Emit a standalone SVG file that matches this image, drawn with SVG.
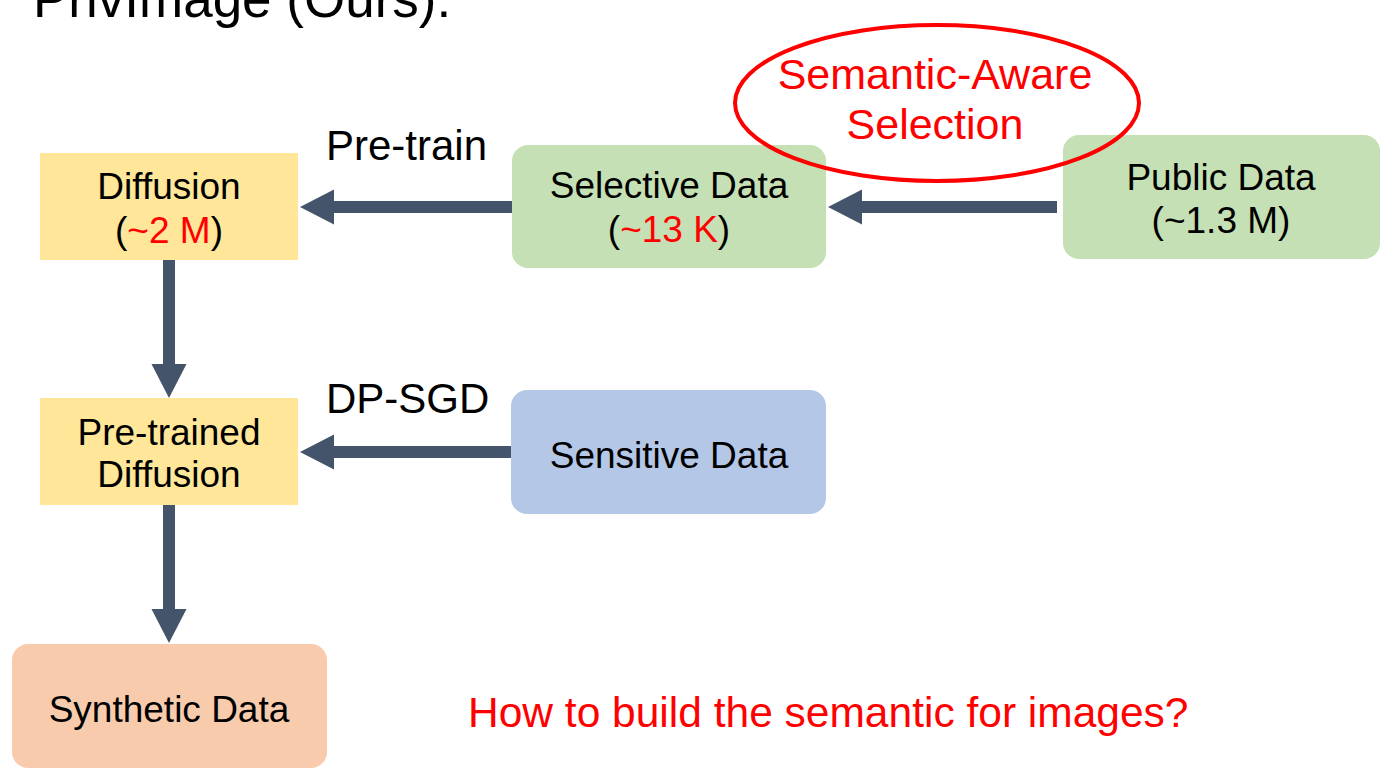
<svg xmlns="http://www.w3.org/2000/svg" width="1384" height="771" viewBox="0 0 1384 771">
  <style>
    text { font-family: "Liberation Sans", Arial, sans-serif; }
    .box { font-size: 37px; fill: #000; text-anchor: middle; }
    .lbl { font-size: 42px; fill: #000; }
    .red { fill: #FF0000; }
    .note { font-size: 43px; fill: #FF0000; text-anchor: middle; }
    .arrow { stroke: #44546A; stroke-width: 12; fill: none; marker-end: url(#head); }
  </style>
  <defs>
    <marker id="head" markerUnits="userSpaceOnUse" markerWidth="36" markerHeight="38" viewBox="0 -19 36 38" refX="0" refY="0" orient="auto">
      <path d="M0,-17.5 L34,0 L0,17.5 Z" fill="#44546A"/>
    </marker>
  </defs>
  <rect width="1384" height="771" fill="#FFFFFF"/>

  <!-- heading, partly above the top edge -->
  <text x="33" y="17" font-size="53" fill="#000">PrivImage (Ours):</text>

  <!-- connectors -->
  <g id="connectors">
    <line class="arrow" x1="512" y1="207" x2="334" y2="207"/>
    <line class="arrow" x1="1057" y1="207" x2="862" y2="207"/>
    <line class="arrow" x1="511" y1="452" x2="334" y2="452"/>
    <line class="arrow" x1="169" y1="260" x2="169" y2="364"/>
    <line class="arrow" x1="169" y1="505" x2="169" y2="609"/>
    <text class="lbl" x="326" y="160">Pre-train</text>
    <text class="lbl" x="326" y="413">DP-SGD</text>
  </g>

  <g id="diffusion">
    <rect x="40" y="153" width="258" height="107" fill="#FFE699"/>
    <text class="box" x="169" y="199">Diffusion</text>
    <text class="box" x="169" y="243">(<tspan class="red">~2 M</tspan>)</text>
  </g>

  <g id="selective-data">
    <rect x="512" y="145" width="314" height="123" rx="16" fill="#C5E0B4"/>
    <text class="box" x="669" y="198">Selective Data</text>
    <text class="box" x="669" y="242">(<tspan class="red">~13 K</tspan>)</text>
  </g>

  <g id="public-data">
    <rect x="1063" y="135" width="317" height="124" rx="16" fill="#C5E0B4"/>
    <text class="box" x="1221" y="190">Public Data</text>
    <text class="box" x="1221" y="233">(~1.3 M)</text>
  </g>

  <g id="semantic-selection">
    <ellipse cx="937" cy="103" rx="202" ry="78" fill="none" stroke="#FF0000" stroke-width="4"/>
    <text class="note" x="935" y="89">Semantic-Aware</text>
    <text class="note" x="935" y="139">Selection</text>
  </g>

  <g id="pretrained-diffusion">
    <rect x="40" y="398" width="258" height="107" fill="#FFE699"/>
    <text class="box" x="169" y="445">Pre-trained</text>
    <text class="box" x="169" y="487">Diffusion</text>
  </g>

  <g id="sensitive-data">
    <rect x="511" y="390" width="315" height="124" rx="16" fill="#B4C7E7"/>
    <text class="box" x="669" y="468">Sensitive Data</text>
  </g>

  <g id="synthetic-data">
    <rect x="12" y="644" width="315" height="124" rx="16" fill="#F8CBAD"/>
    <text class="box" x="169" y="722">Synthetic Data</text>
  </g>

  <text x="468" y="727" font-size="42.5" fill="#FF0000">How to build the semantic for images?</text>
</svg>
